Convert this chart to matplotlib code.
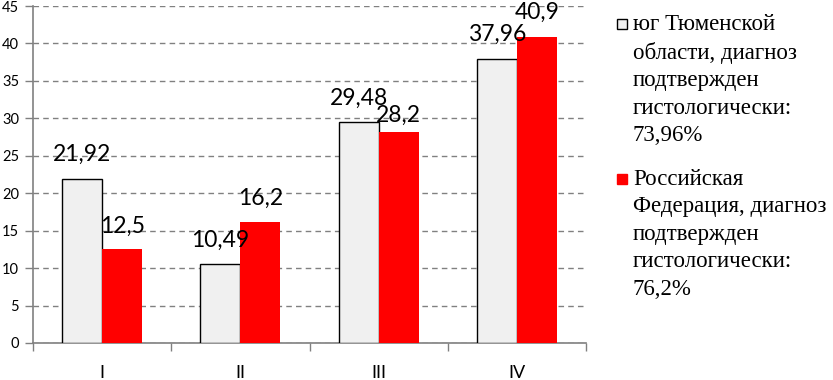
import matplotlib
matplotlib.use("Agg")
import matplotlib.pyplot as plt
import numpy as np
from matplotlib.patches import Rectangle

categories = ["I", "II", "III", "IV"]
tyumen = [21.92, 10.49, 29.48, 37.96]
russia = [12.5, 16.2, 28.2, 40.9]
tyumen_labels = ["21,92", "10,49", "29,48", "37,96"]
russia_labels = ["12,5", "16,2", "28,2", "40,9"]
legend_labels = ["юг Тюменской\nобласти, диагноз\nподтвержден\nгистологически:\n73,96%",
                 "Российская\nФедерация, диагноз\nподтвержден\nгистологически:\n76,2%"]

plt.rcParams["font.serif"] = ["Liberation Serif", "DejaVu Serif"]

fig = plt.figure(figsize=(8.33, 3.8), dpi=100)
ax = fig.add_axes([33/833, 1-343/380, 553/833, 337/380])

x = np.arange(len(categories))
w = 0.29
b1 = ax.bar(x - w/2, tyumen, w, color="#f0f0f0", edgecolor="black", linewidth=1.0, zorder=3)
b2 = ax.bar(x + w/2, russia, w, color="#ff0000", edgecolor="none", zorder=3)

off1 = [24, 24, 24, 24]
off2 = [23, 23, 16, 24]
for rect, lab, o in zip(b1, tyumen_labels, off1):
    ax.annotate(lab, (rect.get_x() + rect.get_width()/2, rect.get_height()),
                xytext=(0, o), textcoords="offset pixels", ha="center", va="center",
                fontsize=16.5, family="Lato", zorder=4)
for rect, lab, o in zip(b2, russia_labels, off2):
    ax.annotate(lab, (rect.get_x() + rect.get_width()/2, rect.get_height()),
                xytext=(0, o), textcoords="offset pixels", ha="center", va="center",
                fontsize=16.5, family="Lato", zorder=4)

ax.set_xlim(-0.5, len(categories) - 0.5)
ax.set_ylim(0, 45)
ax.set_yticks(np.arange(0, 46, 5))
ax.yaxis.grid(True, linestyle=(0, (4, 3)), color="#808080", linewidth=1.0, zorder=0)
ax.set_axisbelow(True)

ax.set_xticks(x)
ax.set_xticklabels(categories, family="Lato", fontsize=13)
ax.set_xticks(np.arange(-0.5, len(categories), 1), minor=True)
ax.tick_params(axis="x", which="major", length=0, pad=16)
ax.tick_params(axis="x", which="minor", length=6, color="#808080", width=1)
ax.tick_params(axis="y", length=6, color="#808080", width=1, labelsize=10.5, pad=4)
for lab in ax.get_yticklabels():
    lab.set_family("Lato")

for s in ["top", "right"]:
    ax.spines[s].set_visible(False)
for s in ["left", "bottom"]:
    ax.spines[s].set_color("#808080")
    ax.spines[s].set_linewidth(1.2)

# legend
fs = 16.5
ytop = [24, 179]
handles = [("#f0f0f0", "black"), ("#ff0000", "#ff0000")]
for (fc, ec), lab, yc in zip(handles, legend_labels, ytop):
    fig.patches.append(Rectangle((617/833, 1-(yc+5)/380), 10/833, 10/380,
                                 transform=fig.transFigure, facecolor=fc, edgecolor=ec, linewidth=1))
    fig.text(633/833, 1-(yc-10)/380, lab, family="serif", fontsize=fs,
             ha="left", va="top", linespacing=1.4)

fig.savefig("out.png", dpi=100)
